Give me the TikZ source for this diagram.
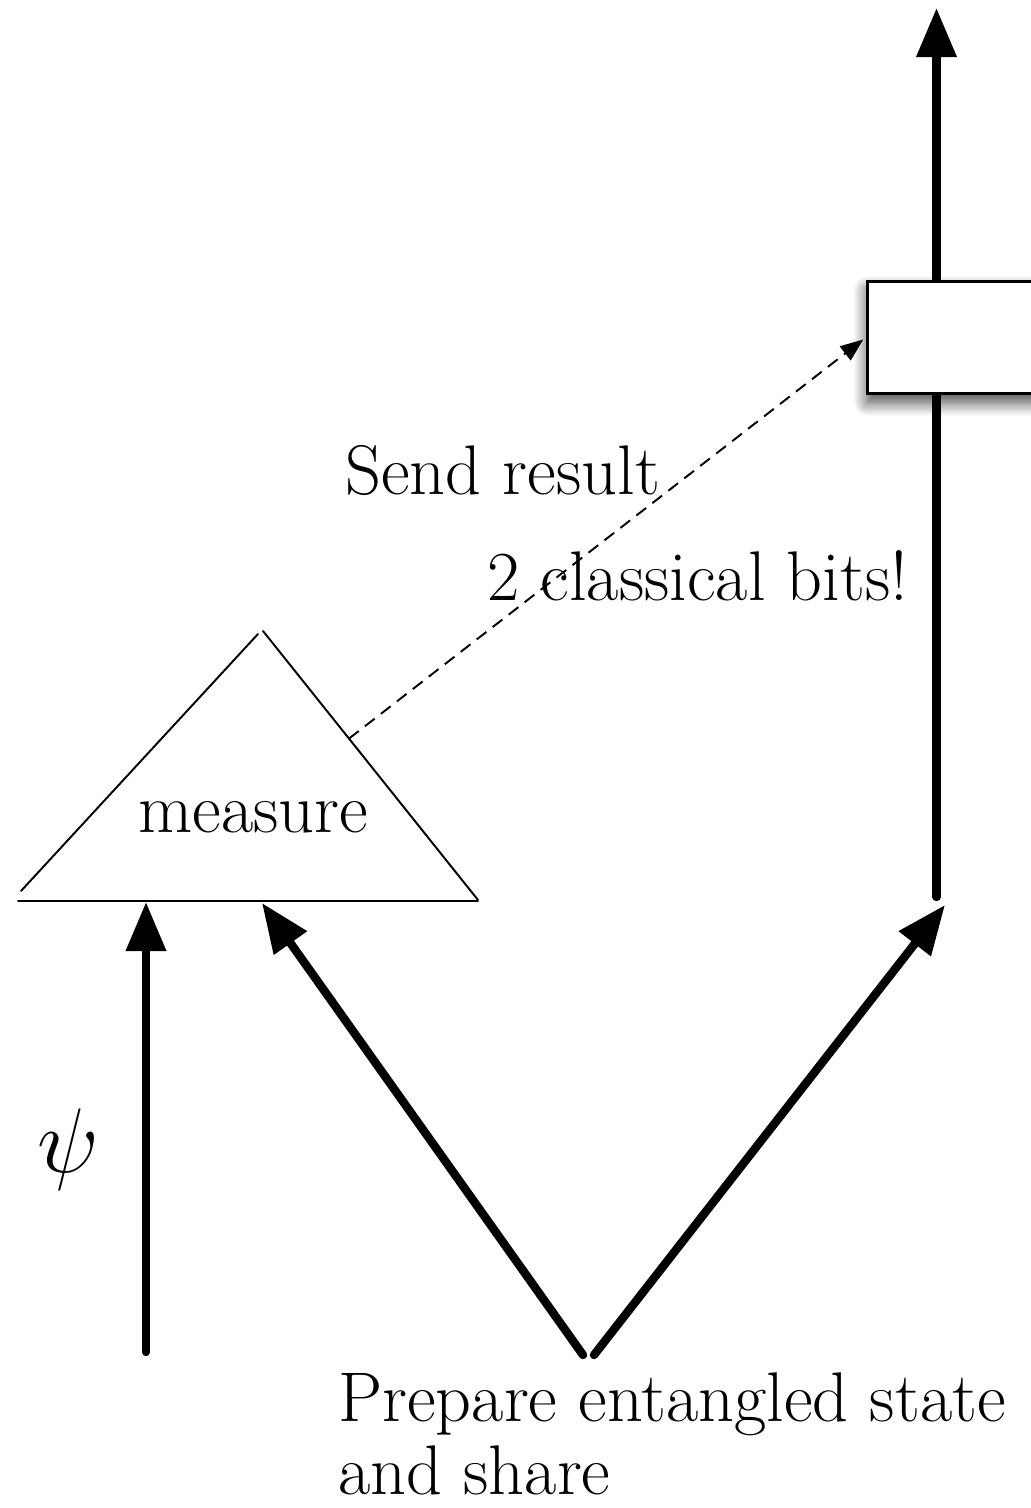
\documentclass[tikz,border=0pt]{standalone}
\usepackage{amsmath,amssymb}
\usepackage{tikz}
\usetikzlibrary{arrows.meta,calc,shadows.blur}
\tikzset{
  qwire/.style={line width=4.8pt,line cap=round,-{Triangle[length=28pt,width=22pt]}},
  qline/.style={line width=4.8pt,line cap=round},
  classical/.style={line width=1.1pt,dash pattern=on 7pt off 4.5pt,-{Triangle[length=13pt,width=10pt]},shorten >=2pt},
  meter/.style={line width=1.1pt,line cap=round},
  gatebox/.style={draw,fill=white,line width=1.5pt,minimum width=5cm,minimum height=2.24cm,inner sep=0pt,
    blur shadow={shadow xshift=0pt,shadow yshift=-5pt,shadow blur radius=8pt,shadow blur steps=12,shadow opacity=75}},
  lbl/.style={inner sep=0pt,font=\fontsize{40}{41.5}\selectfont}
}
\begin{document}
\begin{tikzpicture}
    \useasboundingbox (0,0) rectangle (20.62,30.16);

    % Measurement triangle
    \coordinate (baseL) at (0.36,12.14);
    \coordinate (baseR) at (9.56,12.14);
    \coordinate (sideL) at (0.42,12.34);
    \coordinate (apexL) at (5.16,17.48);
    \coordinate (apexR) at (5.26,17.54);
    \coordinate (sideR) at (9.56,12.16);
    \draw[meter] (sideL) -- (apexL);
    \draw[meter] (apexR) -- (sideR);
    \draw[meter] (baseL) -- (baseR);
    \node[lbl,anchor=base] (meas) at (5.07,13.5) {measure};

    % Wires
    \coordinate (psiin)  at (2.92,3.12);
    \coordinate (psitip) at (2.92,12.12);
    \coordinate (srcL)   at (11.66,3.06);
    \coordinate (entL)   at (5.24,12.1);
    \coordinate (srcR)   at (11.88,3.06);
    \coordinate (entR)   at (18.9,12.06);
    \coordinate (bobin)  at (18.73,12.22);
    \coordinate (bobout) at (18.73,30.0);
    \coordinate (boxtop) at (18.73,24.56);
    \coordinate (boxbot) at (18.73,22.32);
    \draw[qwire] (psiin) -- (psitip);
    \draw[qwire] (srcL) -- (entL);
    \draw[qwire] (srcR) -- (entR);
    \draw[qline] (bobin) -- (boxbot);
    \draw[qwire] (boxtop) -- (bobout);

    % Correction box
    \node[gatebox,anchor=north west] (fix) at (17.32,24.56) {};

    % Classical channel
    \coordinate (send) at ($(apexR)!0.4!(sideR)$);
    \draw[classical] (send) -- (fix.west);

    % Labels
    \node[inner sep=0pt,font=\Huge,scale=2.1] (psilbl) at (1.36,7.16) {$\psi$};
    \node[lbl,anchor=base west] (sendlbl) at (6.9,20.26) {Send result};
    \node[lbl,anchor=base west] (bitslbl) at (9.74,18.14) {2 classical bits!};
    \node[lbl,anchor=base west,align=left] (preplbl) at (6.76,0.28) {Prepare entangled state\\and share};
\end{tikzpicture}
\end{document}
